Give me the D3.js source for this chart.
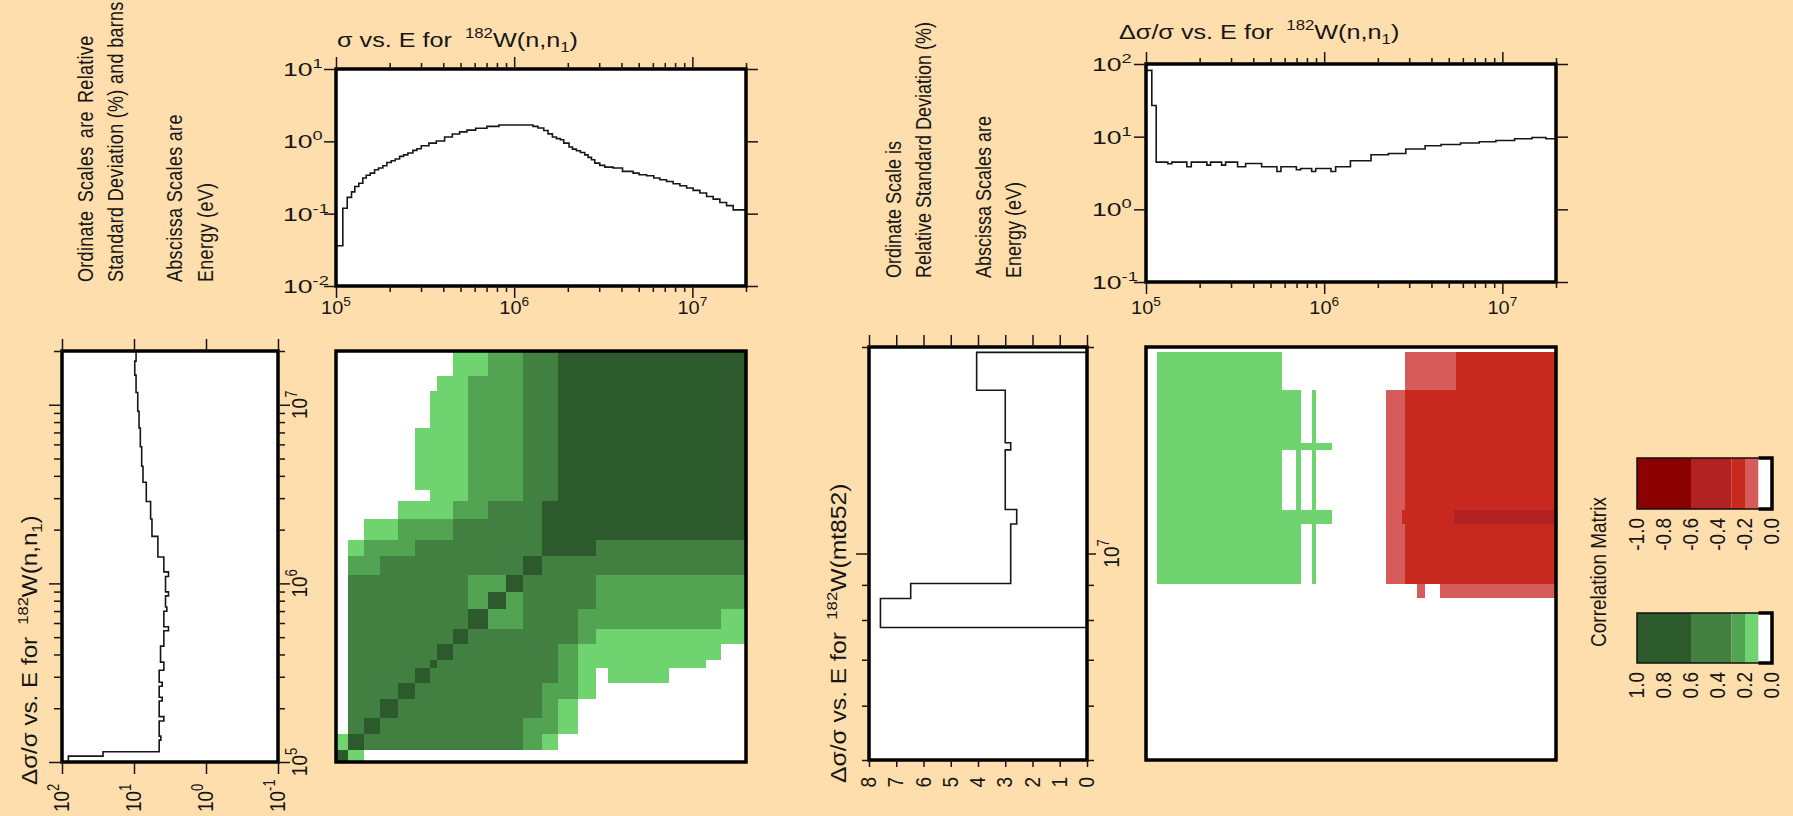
<!DOCTYPE html>
<html><head><meta charset="utf-8">
<script src="https://cdn.jsdelivr.net/npm/d3@7"></script>
<style>
html,body{margin:0;padding:0;background:#FFDEAD;}
svg{display:block;}
text{font-family:"Liberation Sans",Arial,Helvetica,sans-serif;fill:#161616;}
</style></head><body>
<svg id="c" width="1793" height="816"></svg>
<script>
// ---------------- data ----------------
// cross section sigma (barns) for 182W(n,n1), group edges (eV) and values
const sigEdges = [1e5,1.092e5,1.156e5,1.222e5,1.275e5,1.343e5,1.414e5,1.478e5,1.556e5,1.646e5,1.733e5,1.832e5,1.929e5,2.042e5,2.151e5,2.274e5,2.394e5,2.531e5,2.701e5,2.844e5,3.010e5,3.321e5,3.656e5,4.07e5,4.496e5,4.94e5,5.43e5,6.08e5,7.03e5,8.21e5,1.275e6,1.36e6,1.465e6,1.549e6,1.639e6,1.726e6,1.818e6,1.897e6,2.032e6,2.123e6,2.236e6,2.355e6,2.489e6,2.598e6,2.715e6,2.833e6,3.022e6,3.224e6,3.591e6,4.055e6,4.65e6,5.024e6,5.53e6,6.075e6,6.57e6,7.164e6,7.8e6,8.51e6,9.28e6,1.01e7,1.102e7,1.202e7,1.309e7,1.427e7,1.556e7,1.695e7,2e7];
const sigValues = [0.036,0.119,0.168,0.2,0.238,0.263,0.311,0.339,0.363,0.405,0.427,0.46,0.51,0.54,0.57,0.62,0.65,0.69,0.75,0.79,0.87,0.946,1.01,1.15,1.26,1.35,1.43,1.52,1.61,1.68,
  1.61,1.53,1.41,1.27,1.15,1.09,1.05,0.946,0.834,0.78,0.74,0.70,0.65,0.60,0.557,0.50,0.465,0.44,0.427,0.384,0.363,0.345,0.334,0.311,0.295,0.279,0.259,0.243,0.226,0.21,0.193,0.173,0.159,0.143,0.129,0.113];
// relative standard deviation (%) for 182W(n,n1)
const rsdEdges = [1e5,1.078e5,1.141e5,1.326e5,1.396e5,1.695e5,1.795e5,2.196e5,2.303e5,2.657e5,2.797e5,3.266e5,3.623e5,4.456e5,5.43e5,5.72e5,6.98e5,7.38e5,8.51e5,8.96e5,1.092e6,1.16e6,1.404e6,1.832e6,2.295e6,2.871e6,3.685e6,4.53e6,5.82e6,7.41e6,9.19e6,1.171e7,1.465e7,1.755e7,2e7];
const rsdValues = [81.6,26.9,4.47,4.24,4.47,3.85,4.47,4.06,4.47,4.06,4.47,3.85,4.28,3.85,3.32,3.85,3.50,3.65,3.32,3.65,3.32,3.85,4.66,5.63,5.88,6.75,7.5,7.82,8.17,8.51,8.87,9.36,9.76,9.36];
// relative standard deviation (%) for 182W(mt852)
const mtEdges = [7.8e6,8.6e6,9.04e6,1.104e7,1.159e7,1.416e7,1.45e7,1.73e7,1.964e7];
const mtValues = [7.58,6.47,2.8,2.58,3.0,2.8,3.0,4.05];
// self-correlation matrix of 182W(n,n1): group edges and level codes (row = y group, bottom to top)
const covEdges = [1e5,1.167e5,1.435e5,1.764e5,2.239e5,2.771e5,3.363e5,3.704e5,4.553e5,5.525e5,7.15e5,8.96e5,1.116e6,1.426e6,1.752e6,2.283e6,2.88e6,3.354e6,4.536e6,5.87e6,7.43e6,9.22e6,1.193e7,1.448e7,2e7];
const covLevels = [
 "410000000000000000000000",
 "143333333333210000000000",
 "034333333333221000000000",
 "033433333333321000000000",
 "033343333333322100000000",
 "033334333333332101110000",
 "033333433333332111111100",
 "033333343333332111111110",
 "033333334333333211111111",
 "033333333422333222222221",
 "033333333242333322222222",
 "033333333224333322222222",
 "022333333333433333333333",
 "012223333333344433333333",
 "001122223333344444444444",
 "000011112233344444444444",
 "000000111222334444444444",
 "000001111222334444444444",
 "000001111222334444444444",
 "000001111222334444444444",
 "000000111222334444444444",
 "000000111222334444444444",
 "000000011222334444444444",
 "000000001122334444444444"];
const levelValue = [0.05,0.15,0.25,0.45,0.8];
// cross correlation 182W(n,n1) x 182W(mt852): [E lo, E hi, mt852 E lo, mt852 E hi, r]
const crossCells = [
 [1.16e5,5.79e5,1.73e7,1.964e7,0.15],[2.842e6,5.5e6,1.73e7,1.964e7,-0.15],[5.5e6,2e7,1.73e7,1.964e7,-0.25],
 [1.16e5,7.39e5,1.45e7,1.73e7,0.15],[8.58e5,9.04e5,1.45e7,1.73e7,0.15],[2.22e6,2.842e6,1.45e7,1.73e7,-0.15],[2.842e6,2e7,1.45e7,1.73e7,-0.25],
 [1.16e5,1.105e6,1.416e7,1.45e7,0.15],[2.22e6,2.842e6,1.416e7,1.45e7,-0.15],[2.842e6,2e7,1.416e7,1.45e7,-0.25],
 [1.16e5,5.79e5,1.159e7,1.416e7,0.15],[6.99e5,7.39e5,1.159e7,1.416e7,0.15],[8.58e5,9.04e5,1.159e7,1.416e7,0.15],[2.22e6,2.842e6,1.159e7,1.416e7,-0.15],[2.842e6,2e7,1.159e7,1.416e7,-0.25],
 [1.16e5,1.105e6,1.104e7,1.159e7,0.15],[2.22e6,2.75e6,1.104e7,1.159e7,-0.15],[2.75e6,5.38e6,1.104e7,1.159e7,-0.25],[5.38e6,2e7,1.104e7,1.159e7,-0.45],
 [1.16e5,7.39e5,9.04e6,1.104e7,0.15],[8.58e5,9.04e5,9.04e6,1.104e7,0.15],[2.22e6,2.842e6,9.04e6,1.104e7,-0.15],[2.842e6,2e7,9.04e6,1.104e7,-0.25],
 [3.316e6,3.693e6,8.6e6,9.04e6,-0.15],[4.48e6,2e7,8.6e6,9.04e6,-0.15]];
const corrBins = [0.1,0.2,0.3,0.6];
const greenColors = ["#ffffff","#6fd36f","#52a352","#418041","#2d5a2d"];
const redColors = ["#ffffff","#d65c5c","#c8291f","#b22222","#8b0000"];
const legendTicks = [1.0,0.8,0.6,0.4,0.2,0.0];
const energyMajor = [1e5,1e6,1e7];
const pctLinTicks = [8,7,6,5,4,3,2,1,0];

// ---------------- helpers ----------------
const svg = d3.select("#c");
const INK = "#161616";
const greenScale = d3.scaleThreshold().domain(corrBins).range(greenColors);
const redScale = d3.scaleThreshold().domain(corrBins).range(redColors);
const corrColor = r => r >= 0 ? greenScale(r) : redScale(-r);

function logMinor(lo, hi){
  const out=[];
  for(let d=1e4; d<=1e8; d*=10) for(let k=1;k<=9;k++){const v=d*k; if(v>=lo*0.999 && v<=hi*1.001) out.push(v);}
  return out;
}
function tickAxis(gen, scale, vals, size, tx, ty){
  const g = svg.append("g").attr("transform",`translate(${tx},${ty})`);
  g.call(gen(scale).tickValues(vals).tickSize(size).tickFormat(""));
  g.select(".domain").remove();
  g.selectAll("line").attr("stroke",INK).attr("stroke-width",1.5);
  return g;
}
// sAlong stretches along the reading direction, sAcross across it
function stext(x,y,rot,sAlong,sAcross,anchor,size){
  const g = svg.append("g").attr("transform",`translate(${x},${y})`+(rot?` rotate(${rot})`:"")+` scale(${sAlong},${sAcross})`);
  return g.append("text").attr("text-anchor",anchor).attr("font-size",size);
}
function pow(t, exp, sup){
  t.append("tspan").text("10");
  t.append("tspan").attr("font-size",sup||13).attr("dy",-8).text(exp);
}
function titleSpans(t, lead, body, sub, supSize, rise){
  t.append("tspan").text(lead);
  t.append("tspan").attr("font-size",supSize).attr("dy",-rise).attr("dx",5).text("182");
  t.append("tspan").attr("dy",rise).text(body);
  if(sub){ t.append("tspan").attr("font-size",supSize).attr("dy",5).text(sub); t.append("tspan").attr("dy",-5).text(")"); }
}
function frameBg(x0,x1,y0,y1){
  svg.append("rect").attr("x",Math.min(x0,x1)).attr("y",Math.min(y0,y1)).attr("width",Math.abs(x1-x0)).attr("height",Math.abs(y1-y0)).attr("fill","#fff");
}
function frameBox(x0,x1,y0,y1){
  svg.append("rect").attr("x",Math.min(x0,x1)).attr("y",Math.min(y0,y1)).attr("width",Math.abs(x1-x0)).attr("height",Math.abs(y1-y0)).attr("fill","none").attr("stroke","#000").attr("stroke-width",3.5);
}
const lineStyle = p => p.attr("fill","none").attr("stroke",INK).attr("stroke-width",1.6).attr("stroke-linejoin","miter");

// ---------------- scales ----------------
const xA = d3.scaleLog().domain([1e5,2e7]).range([336,746]);
const yA = d3.scaleLog().domain([1e-2,10]).range([286,69]);
const xB = d3.scaleLog().domain([1e5,2e7]).range([1146,1556]);
const yB = d3.scaleLog().domain([0.1,100]).range([282,64]);
const xC = d3.scaleLog().domain([100,0.1]).range([62,278]);
const yC = d3.scaleLog().domain([1e5,2e7]).range([762,351]);
const xD = d3.scaleLinear().domain([8,0]).range([869,1087]);
const yD = d3.scaleLog().domain([5e6,2e7]).range([760,347]);

const eMinor = logMinor(1e5,2e7).filter(v=>!energyMajor.includes(v));

// ---------------- info texts ----------------
[[86,"Ordinate Scales are Relative",3],[116,"Standard Deviation (%) and barns",0],[175,"Abscissa Scales are",0],[206,"Energy (eV)",0]]
 .forEach(([x,s,ws])=> stext(x+7,282,-90,1.0,1.2,"start",18).attr("letter-spacing",0.3).attr("word-spacing",ws).text(s));
[[894,"Ordinate Scale is"],[924,"Relative Standard Deviation (%)"],[984,"Abscissa Scales are"],[1014,"Energy (eV)"]]
 .forEach(([x,s])=> stext(x+7,278,-90,1.0,1.2,"start",18).text(s));

// ---------------- plot A: sigma vs E ----------------
frameBg(xA.range()[0],xA.range()[1],yA.range()[0],yA.range()[1]);
svg.append("path").datum(sigValues.map((v,i)=>[sigEdges[i],v]).concat([[sigEdges[sigEdges.length-1],sigValues[sigValues.length-1]]]))
  .call(lineStyle).attr("d", d3.line().x(d=>xA(d[0])).y(d=>yA(d[1])).curve(d3.curveStepAfter));
frameBox(xA.range()[0],xA.range()[1],yA.range()[0],yA.range()[1]);
tickAxis(d3.axisBottom,xA,energyMajor,12,0,yA.range()[0]);
tickAxis(d3.axisBottom,xA,eMinor,6,0,yA.range()[0]);
tickAxis(d3.axisTop,xA,energyMajor,12,0,yA.range()[1]);
tickAxis(d3.axisTop,xA,eMinor,6,0,yA.range()[1]);
tickAxis(d3.axisLeft,yA,[0.01,0.1,1,10],12,xA.range()[0],0);
tickAxis(d3.axisRight,yA,[0.01,0.1,1,10],12,xA.range()[1],0);
energyMajor.forEach((v,i)=>pow(stext(xA(v),314,0,1.05,1,"middle",19),String(5+i)));
[[10,"1"],[1,"0"],[0.1,"-1"],[0.01,"-2"]].forEach(([v,e])=>pow(stext(283,yA(v)+7,0,1.4,1,"start",19),e));
titleSpans(stext(337,47,0,1.2,1,"start",21),"σ vs. E for ","W(n,n","1",14,9);

// ---------------- plot B: rsd vs E ----------------
frameBg(xB.range()[0],xB.range()[1],yB.range()[0],yB.range()[1]);
svg.append("path").datum(rsdValues.map((v,i)=>[rsdEdges[i],v]).concat([[rsdEdges[rsdEdges.length-1],rsdValues[rsdValues.length-1]]]))
  .call(lineStyle).attr("d", d3.line().x(d=>xB(d[0])).y(d=>yB(d[1])).curve(d3.curveStepAfter));
frameBox(xB.range()[0],xB.range()[1],yB.range()[0],yB.range()[1]);
tickAxis(d3.axisBottom,xB,energyMajor,12,0,yB.range()[0]);
tickAxis(d3.axisBottom,xB,eMinor,6,0,yB.range()[0]);
tickAxis(d3.axisTop,xB,energyMajor,12,0,yB.range()[1]);
tickAxis(d3.axisTop,xB,eMinor,6,0,yB.range()[1]);
tickAxis(d3.axisLeft,yB,[0.1,1,10,100],12,xB.range()[0],0);
tickAxis(d3.axisRight,yB,[0.1,1,10,100],12,xB.range()[1],0);
energyMajor.forEach((v,i)=>pow(stext(xB(v),314,0,1.05,1,"middle",19),String(5+i)));
[[100,"2"],[10,"1"],[1,"0"],[0.1,"-1"]].forEach(([v,e])=>pow(stext(1092,yB(v)+7,0,1.4,1,"start",19),e));
titleSpans(stext(1119,39,0,1.2,1,"start",21),"Δσ/σ vs. E for ","W(n,n","1",14,9);

// ---------------- plot C: rsd (vertical) ----------------
frameBg(xC.range()[0],xC.range()[1],yC.range()[0],yC.range()[1]);
{ const pts=[]; rsdValues.forEach((v,i)=>{pts.push([v,rsdEdges[i]]);pts.push([v,rsdEdges[i+1]]);});
  svg.append("path").datum(pts).call(lineStyle).attr("d", d3.line().x(d=>xC(d[0])).y(d=>yC(d[1]))); }
frameBox(xC.range()[0],xC.range()[1],yC.range()[0],yC.range()[1]);
tickAxis(d3.axisBottom,xC,[100,10,1,0.1],12,0,yC.range()[0]);
tickAxis(d3.axisTop,xC,[100,10,1,0.1],12,0,yC.range()[1]);
tickAxis(d3.axisLeft,yC,energyMajor,13,xC.range()[0],0);
tickAxis(d3.axisLeft,yC,eMinor,8,xC.range()[0],0);
tickAxis(d3.axisRight,yC,energyMajor,12,xC.range()[1],0);
tickAxis(d3.axisRight,yC,eMinor,7,xC.range()[1],0);
[[100,"2"],[10,"1"],[1,"0"],[0.1,"-1"]].forEach(([v,e])=>pow(stext(xC(v)+7,812,-90,1.0,1.2,"start",19),e));
energyMajor.forEach((v,i)=>pow(stext(307,yC(v),-90,1.0,1.2,"middle",19),String(5+i)));
titleSpans(stext(37,785,-90,1.1,1.0,"start",22),"Δσ/σ vs. E for ","W(n,n","1",15,9);

// ---------------- matrix L ----------------
frameBg(xA.range()[0],xA.range()[1],yC.range()[0],yC.range()[1]);
{ const cells=[]; covLevels.forEach((row,j)=>row.split("").forEach((c,i)=>cells.push({i,j,r:levelValue[+c]})));
  svg.append("g").attr("shape-rendering","crispEdges").selectAll("rect").data(cells.filter(d=>d.r>=corrBins[0])).join("rect")
   .attr("x",d=>xA(covEdges[d.i])).attr("width",d=>xA(covEdges[d.i+1])-xA(covEdges[d.i]))
   .attr("y",d=>yC(covEdges[d.j+1])).attr("height",d=>yC(covEdges[d.j])-yC(covEdges[d.j+1]))
   .attr("fill",d=>corrColor(d.r)); }
frameBox(xA.range()[0],xA.range()[1],yC.range()[0],yC.range()[1]);

// ---------------- plot D: mt852 rsd (vertical, linear) ----------------
frameBg(xD.range()[0],xD.range()[1],yD.range()[0],yD.range()[1]);
{ const pts=[[0,mtEdges[0]]]; mtValues.forEach((v,i)=>{pts.push([v,mtEdges[i]]);pts.push([v,mtEdges[i+1]]);}); pts.push([0,mtEdges[mtEdges.length-1]]);
  svg.append("path").datum(pts).call(lineStyle).attr("d", d3.line().x(d=>xD(d[0])).y(d=>yD(d[1]))); }
frameBox(xD.range()[0],xD.range()[1],yD.range()[0],yD.range()[1]);
const dMinor = logMinor(5e6,2e7).filter(v=>v!==1e7);
tickAxis(d3.axisTop,xD,pctLinTicks,12,0,yD.range()[1]);
tickAxis(d3.axisBottom,xD,pctLinTicks,7,0,yD.range()[0]);
tickAxis(d3.axisLeft,yD,[1e7],13,xD.range()[0],0);
tickAxis(d3.axisRight,yD,[1e7],9,xD.range()[1],0);
tickAxis(d3.axisRight,yD,dMinor,7,xD.range()[1],0);
tickAxis(d3.axisLeft,yD,dMinor,7,xD.range()[0],0);
pctLinTicks.forEach(v=>stext(xD(v)+7,777,-90,1.0,1.2,"end",19).text(String(v)));
pow(stext(1119,yD(1e7),-90,1.0,1.2,"middle",19),"7");
titleSpans(stext(846,783,-90,1.12,1.0,"start",22),"Δσ/σ vs. E for ","W(mt852)",null,15,9);

// ---------------- matrix R ----------------
frameBg(xB.range()[0],xB.range()[1],yD.range()[0],yD.range()[1]);
svg.append("g").attr("shape-rendering","crispEdges").selectAll("rect").data(crossCells).join("rect")
  .attr("x",d=>xB(d[0])).attr("width",d=>xB(d[1])-xB(d[0]))
  .attr("y",d=>yD(d[3])).attr("height",d=>yD(d[2])-yD(d[3]))
  .attr("fill",d=>corrColor(d[4]));
frameBox(xB.range()[0],xB.range()[1],yD.range()[0],yD.range()[1]);

// ---------------- legend ----------------
const xLeg = d3.scaleLinear().domain([1,0]).range([1637,1772]);
const segEdges = [1,...corrBins.slice().reverse(),0];
function legendBar(y0,y1,sign){
  const segs = d3.pairs(segEdges);
  svg.append("g").selectAll("rect").data(segs).join("rect")
   .attr("x",d=>xLeg(d[0])).attr("width",d=>xLeg(d[1])-xLeg(d[0])).attr("y",y0).attr("height",y1-y0)
   .attr("fill",d=>corrColor(sign*(d[0]+d[1])/2));
  svg.append("rect").attr("x",xLeg(1)).attr("y",y0).attr("width",xLeg(0)-xLeg(1)).attr("height",y1-y0).attr("fill","none").attr("stroke","#111").attr("stroke-width",1.5);
  const w0 = xLeg(corrBins[0]);
  svg.append("path").attr("d",`M${w0},${y0}H${xLeg(0)}V${y1}H${w0}`).attr("fill","none").attr("stroke","#000").attr("stroke-width",3.5);
  legendTicks.forEach(v=>stext(xLeg(v)+7,y1+9,-90,1.0,1.2,"end",19).text((sign<0&&v>0?"-":"")+v.toFixed(1)));
}
legendBar(458,509,-1);
legendBar(613,663,1);
stext(1606,572,-90,1.0,1.2,"middle",19).text("Correlation Matrix");
</script>
</body></html>
